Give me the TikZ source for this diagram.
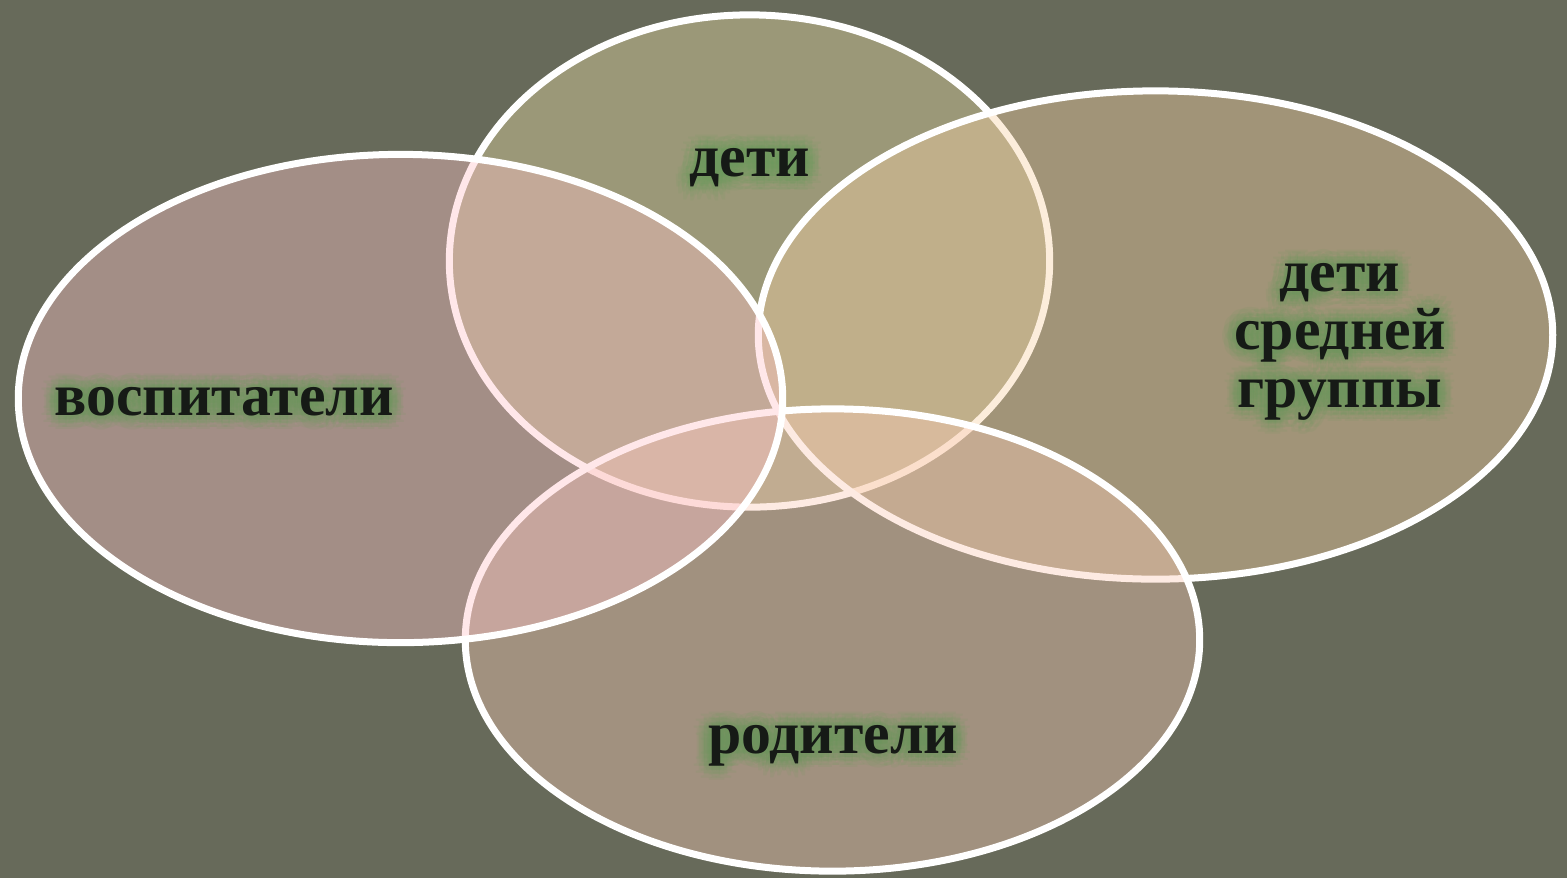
\documentclass[tikz,border=0pt]{standalone}
\usepackage{fontspec}
\setmainfont{Liberation Serif}
\usetikzlibrary{shapes.geometric}
\definecolor{bg}{HTML}{676A5A}
\definecolor{ctop}{RGB}{233,221,165}
\definecolor{cleft}{RGB}{255,196,202}
\definecolor{cright}{RGB}{248,211,167}
\definecolor{cbot}{RGB}{250,204,183}
\definecolor{txtc}{HTML}{161A16}
\definecolor{glowc}{HTML}{6E9A5E}
\tikzset{
  circ/.style={ellipse, inner sep=0pt, draw=white, line width=0.07cm, fill opacity=0.4, draw opacity=1},
  lbl/.style={font=\bfseries\fontsize{17}{16.4}\selectfont, text=txtc, align=center, inner sep=0pt},
  glw/.style={lbl, text=glowc, text opacity=0.13},
}
\newcommand\glowlabel[3]{%
  \foreach \r in {1.2,2.6,4.0}{%
    \foreach \a in {0,30,...,330}{%
      \node[glw, shift={(\a:\r pt)}] (#2-g-\r-\a) at (#1) {#3};%
    }%
  }%
  \node[lbl] (#2) at (#1) {#3};%
}
\begin{document}
\begin{tikzpicture}[x=0.01cm,y=-0.01cm]
\fill[bg] (0,0) rectangle (1567,878);
\useasboundingbox (0,0) rectangle (1567,878);
\node[circ, fill=ctop, minimum width=6.00cm, minimum height=4.92cm] (etop) at (749.5,261) {};
\node[circ, fill=cright, minimum width=7.94cm, minimum height=4.88cm] (eright) at (1155.5,335) {};
\node[circ, fill=cbot, minimum width=7.34cm, minimum height=4.62cm] (ebot) at (832.5,640) {};
\node[circ, fill=cleft, minimum width=7.64cm, minimum height=4.88cm] (eleft) at (400.5,398.5) {};
\glowlabel{750,168}{tdeti}{дети}
\glowlabel{224,402}{tvosp}{воспитатели}
\glowlabel{1340,342}{tsred}{дети\\средней\\группы}
\glowlabel{833,746}{trod}{родители}
\end{tikzpicture}
\end{document}
